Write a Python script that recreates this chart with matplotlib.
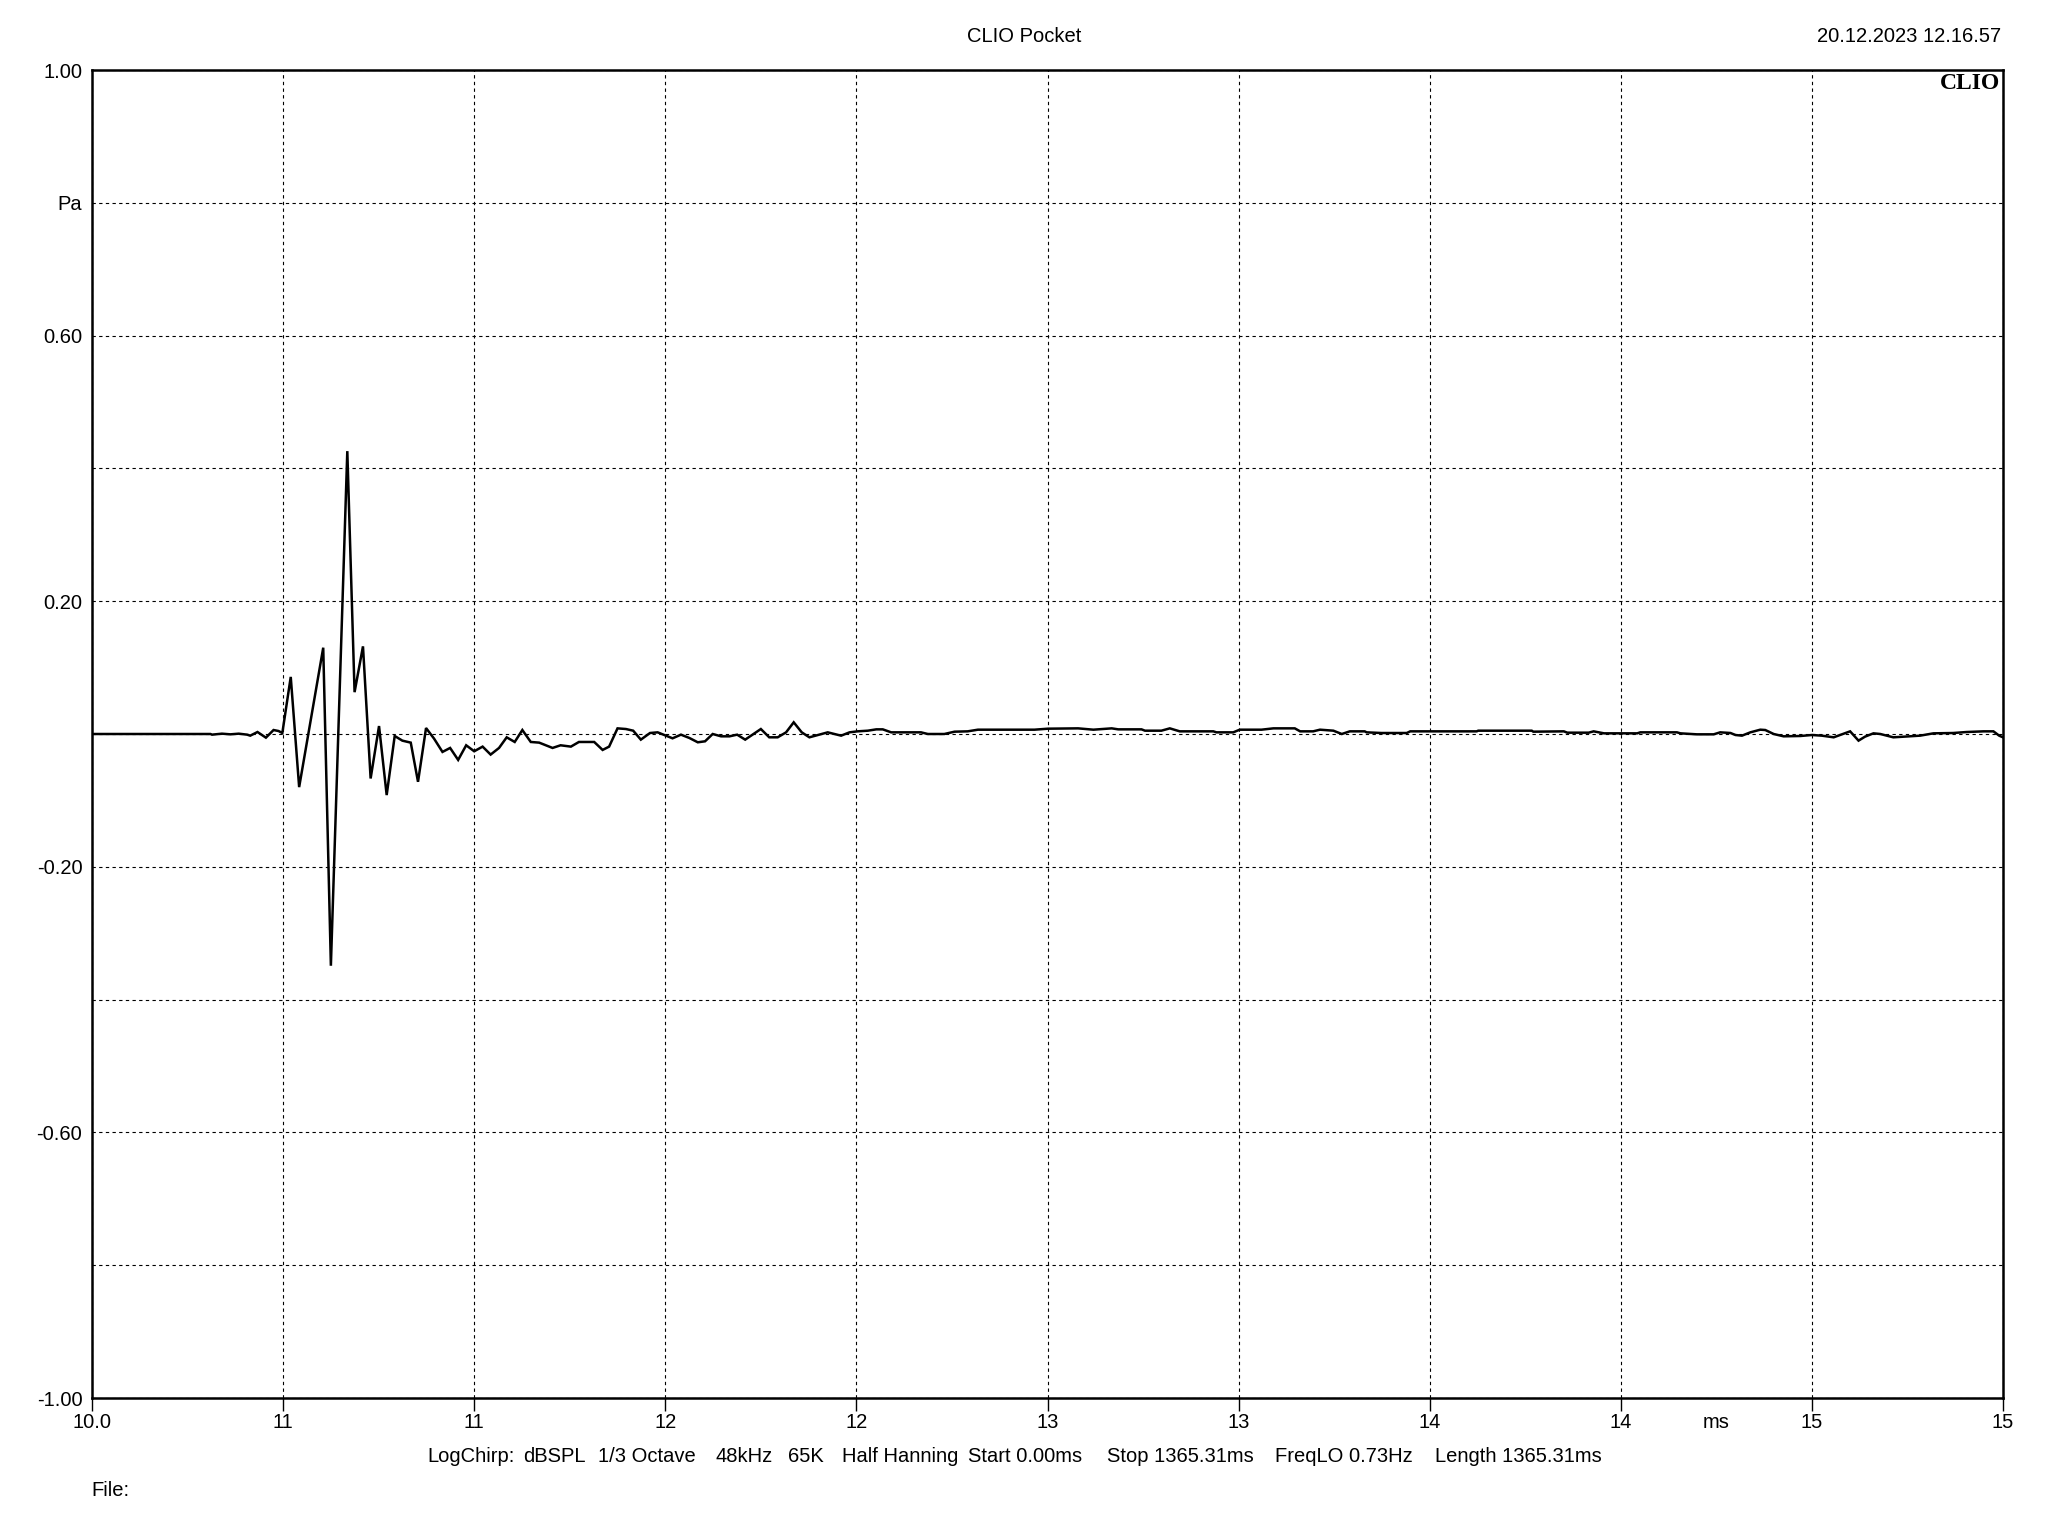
import matplotlib
matplotlib.use("Agg")
import matplotlib.pyplot as plt
import matplotlib.transforms as mtransforms

# impulse response (time in ms, pressure in Pa)
time_ms = [
    10.000, 10.310, 10.314, 10.340, 10.362, 10.384, 10.406, 10.414, 10.433, 10.455,
    10.475, 10.488, 10.498, 10.520, 10.542, 10.605, 10.625, 10.668, 10.687, 10.709,
    10.729, 10.751, 10.771, 10.792, 10.812, 10.834, 10.853, 10.874, 10.895, 10.917,
    10.937, 10.958, 10.979, 11.000, 11.022, 11.043, 11.065, 11.085, 11.106, 11.126,
    11.148, 11.170, 11.205, 11.226, 11.253, 11.274, 11.314, 11.336, 11.353, 11.375,
    11.397, 11.416, 11.436, 11.460, 11.480, 11.519, 11.541, 11.563, 11.585, 11.604,
    11.624, 11.646, 11.668, 11.688, 11.709, 11.750, 11.772, 11.794, 11.816, 11.836,
    11.857, 11.877, 11.903, 11.925, 11.942, 11.960, 11.982, 12.003, 12.030, 12.052,
    12.069, 12.091, 12.169, 12.187, 12.230, 12.257, 12.291, 12.318, 12.466, 12.501,
    12.580, 12.620, 12.668, 12.685, 12.746, 12.755, 12.798, 12.820, 12.846, 12.934,
    12.942, 12.986, 13.003, 13.060, 13.091, 13.147, 13.161, 13.195, 13.213, 13.248,
    13.270, 13.291, 13.330, 13.335, 13.374, 13.440, 13.449, 13.623, 13.627, 13.767,
    13.771, 13.851, 13.860, 13.916, 13.929, 13.956, 14.043, 14.051, 14.147, 14.156,
    14.199, 14.243, 14.260, 14.287, 14.300, 14.317, 14.339, 14.365, 14.378, 14.400,
    14.426, 14.470, 14.500, 14.526, 14.557, 14.574, 14.600, 14.622, 14.639, 14.661,
    14.679, 14.713, 14.740, 14.783, 14.818, 14.870, 14.905, 14.949, 14.975, 14.990,
    15.000,
]
pressure_pa = [
    0.0, 0.0, -0.001, 0.0005, -0.0005, 0.0005, -0.001, -0.0025, 0.003, -0.0055,
    0.006, 0.0045, 0.0015, 0.086, -0.080, 0.130, -0.349, 0.426, 0.063, 0.132,
    -0.067, 0.012, -0.092, -0.003, -0.010, -0.013, -0.072, 0.009, -0.007, -0.027,
    -0.021, -0.039, -0.017, -0.026, -0.019, -0.031, -0.021, -0.005, -0.012, 0.006,
    -0.012, -0.013, -0.021, -0.017, -0.019, -0.012, -0.012, -0.024, -0.019, 0.0085,
    0.0075, 0.005, -0.0085, 0.0015, 0.0025, -0.0065, -0.001, -0.006, -0.0125, -0.011,
    0.0, -0.0035, -0.0035, -0.001, -0.0085, 0.0075, -0.005, -0.005, 0.0025, 0.0176,
    0.0025, -0.005, -0.001, 0.0025, 0.0, -0.0025, 0.0025, 0.004, 0.005, 0.007,
    0.007, 0.0025, 0.0025, 0.0, 0.0, 0.0035, 0.004, 0.0065, 0.0065, 0.008,
    0.0085, 0.0065, 0.0085, 0.007, 0.007, 0.005, 0.005, 0.0085, 0.004, 0.004,
    0.0025, 0.0025, 0.0065, 0.0065, 0.0085, 0.0085, 0.004, 0.004, 0.0065, 0.005,
    0.0, 0.004, 0.004, 0.0025, 0.0015, 0.0015, 0.004, 0.004, 0.005, 0.005,
    0.0035, 0.004, 0.002, 0.002, 0.004, 0.001, 0.001, 0.0025, 0.0025, 0.001,
    -0.0005, -0.0005, 0.0025, 0.0015, -0.0015, -0.0025, 0.0025, 0.0065, 0.006, 0.0,
    -0.0035, -0.003, -0.0015, -0.0025, -0.005, -0.0015, 0.004, -0.010, -0.004, 0.001,
    0.0, -0.005, -0.004, -0.0025, 0.001, 0.0015, 0.003, 0.004, 0.004, -0.0025,
    -0.005,
]

x_ticks = [10.0, 10.5, 11.0, 11.5, 12.0, 12.5, 13.0, 13.5, 14.0, 14.5, 15.0]
x_tick_labels = ["10.0", "11", "11", "12", "12", "13", "13", "14", "14", "15", "15"]
y_ticks = [1.0, 0.8, 0.6, 0.4, 0.2, 0.0, -0.2, -0.4, -0.6, -0.8, -1.0]
y_tick_labels = ["1.00", "Pa", "0.60", "", "0.20", "", "-0.20", "", "-0.60", "", "-1.00"]

info_items = [
    ("LogChirp:", 427), ("dBSPL", 523), ("1/3 Octave", 598), ("48kHz", 716),
    ("65K", 788), ("Half Hanning", 842), ("Start 0.00ms", 968),
    ("Stop 1365.31ms", 1107), ("FreqLO 0.73Hz", 1275), ("Length 1365.31ms", 1435),
]

plt.rcParams["font.family"] = ["Liberation Sans", "DejaVu Sans"]
FS = 14.5

W, H = 2048, 1536
fig = plt.figure(figsize=(W / 100, H / 100), dpi=100)
fig.patch.set_facecolor("white")
ax = fig.add_axes([92 / W, 1 - 1398 / H, (2003 - 92) / W, (1398 - 70) / H])

ax.plot(time_ms, pressure_pa, color="black", linewidth=1.8, solid_joinstyle="miter", zorder=3)

ax.set_xlim(10.0, 15.0)
ax.set_ylim(-1.0, 1.0)
ax.set_xticks(x_ticks)
ax.set_xticklabels(x_tick_labels, fontsize=FS)
ax.set_yticks(y_ticks)
ax.set_yticklabels(y_tick_labels, fontsize=FS)
ax.tick_params(axis="x", direction="out", length=9, width=1.0, pad=2, colors="black")
ax.tick_params(axis="y", length=0, pad=7, colors="black")

ax.grid(True, color="black", linestyle=(0, (3, 3)), linewidth=0.8, zorder=1)
ax.set_axisbelow(True)
for spine in ax.spines.values():
    spine.set_linewidth(1.8)
    spine.set_color("black")

# unit label under the x axis, sitting among the tick labels
trans = mtransforms.blended_transform_factory(ax.transData, fig.transFigure)
ax.text(14.25, 1 - 1422 / H, "ms", transform=trans, ha="center", va="center", fontsize=FS)

ax.text(0.9985, 0.9975, "CLIO", transform=ax.transAxes, ha="right", va="top",
        fontsize=17, fontweight="bold", family="Liberation Serif")

fig.text(1024 / W, 1 - 36 / H, "CLIO Pocket", ha="center", va="center", fontsize=FS)
fig.text(2001 / W, 1 - 36 / H, "20.12.2023 12.16.57", ha="right", va="center", fontsize=FS)

for label, x_px in info_items:
    fig.text(x_px / W, 1 - 1457 / H, label, ha="left", va="center", fontsize=FS)
fig.text(91 / W, 1 - 1491 / H, "File:", ha="left", va="center", fontsize=FS)

fig.savefig("out.png", dpi=100)
plt.close(fig)
